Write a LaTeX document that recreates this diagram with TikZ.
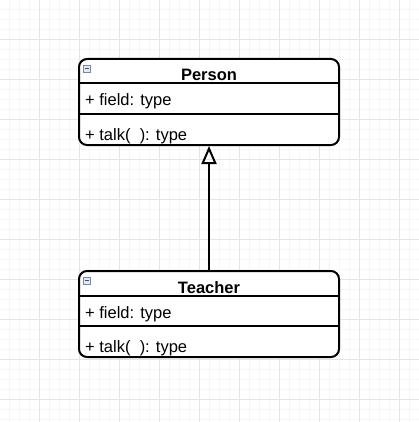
\documentclass[tikz,border=0pt]{standalone}
\usepackage{fontspec}
\setmainfont{Liberation Sans}
\usetikzlibrary{positioning, arrows.meta}

\definecolor{gridminor}{RGB}{246,246,244}
\definecolor{gridmajor}{RGB}{228,228,228}
\definecolor{toggleline}{RGB}{120,138,165}
\definecolor{togglefill}{RGB}{226,233,242}

\begin{document}
\begin{tikzpicture}[
    x=1pt, y=-1pt,
    umlclass/.style={
        draw,
        fill=white,
        rounded corners=8pt,
        minimum width=260pt,
        minimum height=86pt,
        line width=2pt,
        inner sep=0pt
    },
    classname/.style={
        anchor=base,
        font=\fontsize{16.5}{19}\selectfont\bfseries,
        inner sep=0pt
    },
    member/.style={
        anchor=base west,
        font=\fontsize{16.5}{19}\selectfont,
        inner sep=0pt
    },
    divider/.style={
        line width=2pt
    },
    toggle/.style={
        draw=toggleline,
        fill=togglefill,
        minimum size=7pt,
        inner sep=0pt,
        line width=0.6pt
    },
    inherit/.style={
        -{Triangle[open, length=18pt, width=15pt, line width=2pt]},
        line width=2pt
    }
]

% Background grid
\useasboundingbox (0,0) rectangle (419,422);
\foreach \g in {9,19,...,419} {
    \draw[gridminor, line width=0.6pt] (\g,0) -- (\g,422);
    \draw[gridminor, line width=0.6pt] (0,\g) -- (419,\g);
}
\foreach \g in {39,79,...,419} {
    \draw[gridmajor, line width=0.7pt] (\g,0) -- (\g,422);
    \draw[gridmajor, line width=0.7pt] (0,\g) -- (419,\g);
}

% Classes
\node (person) [umlclass] at (209,102) {};
\node (teacher) [umlclass, below=124pt of person] {};

% Person compartments
\node (pname) [classname] at ([yshift=-23pt]person.north) {Person};
\draw [divider] ([yshift=-25.5pt]person.north west) -- ([yshift=-25.5pt]person.north east);
\node (pfield) [member] at ([xshift=7pt, yshift=-48pt]person.north west) {+ field: type};
\draw [divider] ([yshift=-56pt]person.north west) -- ([yshift=-56pt]person.north east);
\node (pmethod) [member] at ([xshift=7pt, yshift=-82pt]person.north west) {+ talk(\ \ ): type};
\node (ptoggle) [toggle] at ([xshift=9pt, yshift=-10.5pt]person.north west) {};
\draw [line width=0.8pt, black!70] ([xshift=-2pt]ptoggle.center) -- ([xshift=2pt]ptoggle.center);

% Teacher compartments
\node (tname) [classname] at ([yshift=-23pt]teacher.north) {Teacher};
\draw [divider] ([yshift=-25.5pt]teacher.north west) -- ([yshift=-25.5pt]teacher.north east);
\node (tfield) [member] at ([xshift=7pt, yshift=-48pt]teacher.north west) {+ field: type};
\draw [divider] ([yshift=-56pt]teacher.north west) -- ([yshift=-56pt]teacher.north east);
\node (tmethod) [member] at ([xshift=7pt, yshift=-82pt]teacher.north west) {+ talk(\ \ ): type};
\node (ttoggle) [toggle] at ([xshift=9pt, yshift=-10.5pt]teacher.north west) {};
\draw [line width=0.8pt, black!70] ([xshift=-2pt]ttoggle.center) -- ([xshift=2pt]ttoggle.center);

% Generalization
\draw [inherit] (teacher) -- (person);

\end{tikzpicture}
\end{document}
